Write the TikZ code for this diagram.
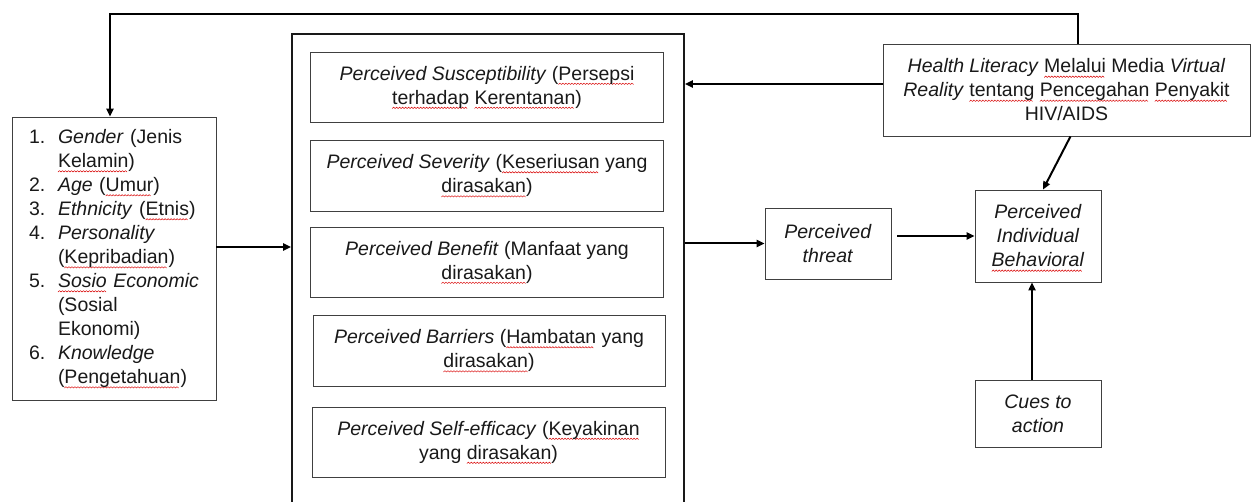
\documentclass[tikz,border=0pt]{standalone}
\usepackage{fontspec}
\setmainfont{Liberation Sans}
\usetikzlibrary{arrows.meta}
\newsavebox\wavebox
\newsavebox\sqbox
\sbox\wavebox{\tikz{\useasboundingbox (0,0) rectangle (3pt,1.4pt);\draw[red!85!black, line width=0.5pt] (0,0) -- (1.5pt,1.4pt) -- (3pt,0);}}
\newcommand\sq[1]{\sbox\sqbox{#1}\rlap{\raisebox{-4.5pt}[0pt][0pt]{\leaders\copy\wavebox\hskip\wd\sqbox}}\usebox\sqbox}
\newcommand\dfont{\fontsize{19.5}{24}\selectfont}
\begin{document}
\begin{tikzpicture}[x=1pt,y=-1pt,
  box/.style={draw=black!75, line width=0.8pt, align=center, inner sep=0pt, font=\dfont, text=black!90},
  inbox/.style={box, minimum width=353pt, minimum height=70pt},
  arr/.style={line width=2pt, -{Triangle[length=8pt,width=7pt]}},
  ]
\useasboundingbox (0,0) rectangle (1252,502);
\clip (0,0) rectangle (1252,502);
\fill[white] (0,0) rectangle (1252,502);

% main container
\node[box, line width=1.6pt, draw=black!90, minimum width=392pt, minimum height=490pt] (main) at (488,279) {};

% inner boxes
\node[inbox] (b1) at (487,87) {\textit{Perceived Susceptibility} (\sq{Persepsi}\\\sq{terhadap} \sq{Kerentanan})};
\node[inbox, minimum height=71pt] (b2) at (487,175.5) {\textit{Perceived Severity} (\sq{Keseriusan} yang\\\sq{dirasakan})};
\node[inbox] (b3) at (487,262) {\textit{Perceived Benefit} (Manfaat yang\\\sq{dirasakan})};
\node[inbox, minimum width=352pt, minimum height=71pt] (b4) at (489,350.5) {\textit{Perceived Barriers} (\sq{Hambatan} yang\\\sq{dirasakan})};
\node[inbox] (b5) at (488.5,442) {\textit{Perceived Self-efficacy} (\sq{Keyakinan}\\yang \sq{dirasakan})};

% left list
\node[box, align=left, text width=170pt, inner xsep=17pt, minimum height=283pt] (left) at (114,258.5) {%
\makebox[29pt][l]{1.}\textit{Gender} (Jenis\\
\hspace*{29pt}\sq{Kelamin})\\
\makebox[29pt][l]{2.}\textit{Age} (\sq{Umur})\\
\makebox[29pt][l]{3.}\textit{Ethnicity} (\sq{Etnis})\\
\makebox[29pt][l]{4.}\textit{Personality}\\
\hspace*{29pt}(\sq{Kepribadian})\\
\makebox[29pt][l]{5.}\sq{\textit{Sosio}} \textit{Economic}\\
\hspace*{29pt}(Sosial\\
\hspace*{29pt}Ekonomi)\\
\makebox[29pt][l]{6.}\textit{Knowledge}\\
\hspace*{29pt}(\sq{Pengetahuan})};

% right side
\node[box, minimum width=367pt, minimum height=92pt] (health) at (1066.5,90) {\textit{Health Literacy} \sq{Melalui} Media \textit{Virtual}\\\textit{Reality} \sq{tentang} \sq{Pencegahan} \sq{Penyakit}\\HIV/AIDS};
\node[box, minimum width=126pt, minimum height=71pt] (threat) at (828,243.5) {\textit{Perceived}\\\textit{threat}};
\node[box, minimum width=126pt, minimum height=92pt] (PIB) at (1038,236) {\textit{Perceived}\\\textit{Individual}\\\sq{\textit{Behavioral}}};
\node[box, minimum width=126pt, minimum height=67pt] (cues) at (1038,413.5) {\textit{Cues to}\\\textit{action}};

% connectors
\coordinate (a1) at ([yshift=11.5pt]left.east);
\draw[arr] (a1) -- (a1 -| main.west);
\draw[arr] (threat.west -| main.east) -- (threat.west);
\coordinate (t1) at ([xshift=6pt]threat.east);
\draw[arr] (t1 |- PIB.west) -- (PIB.west);
\coordinate (h1) at ([yshift=6pt]health.west);
\draw[arr] (h1) -- (h1 -| main.east);
\draw[arr] ([xshift=4pt]health.south) -- ([xshift=5pt]PIB.north);
\draw[arr] ([xshift=-6pt]cues.north) -- ([xshift=-6pt]PIB.south);
\coordinate (h2) at ([xshift=11.5pt]health.north);
\coordinate (l2) at ([xshift=-4pt]left.north);
\draw[arr] (h2) -- (h2 |- 0,14) -- (l2 |- 0,14) -- (l2);
\end{tikzpicture}
\end{document}
